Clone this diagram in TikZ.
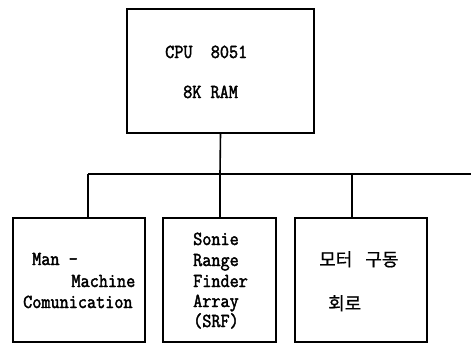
\documentclass[tikz,border=0pt]{standalone}
\usepackage{fontspec}
\usepackage{graphicx}
\newfontfamily\krfont{Noto Sans CJK KR}[FakeBold=0.8]
\newfontfamily\lmtb{Latin Modern Mono}[FakeBold=2.2]
\newcommand\tallt[1]{\scalebox{1}[1.12]{#1}}
\tikzset{
  blk/.style={draw, line width=1.6pt, rectangle, inner sep=0pt},
  wire/.style={line width=1.6pt},
  lbl/.style={font=\lmtb\fontsize{17.7}{20}\selectfont, inner sep=0pt, anchor=base west},
  krl/.style={font=\krfont\fontsize{18}{20}\selectfont, inner sep=0pt, anchor=base west}
}
\begin{document}
\begin{tikzpicture}[x=1pt,y=-1pt]
\useasboundingbox (0,0) rectangle (471,343);
% boxes
\node[blk, minimum width=187pt, minimum height=124pt] (cpu) at (220.5,71) {};
\node[blk, minimum width=132pt, minimum height=124pt] (mmc) at (79,280) {};
\node[blk, minimum width=113pt, minimum height=124pt] (srf) at (219.5,280) {};
\node[blk, minimum width=132pt, minimum height=124pt] (mot) at (361,280) {};
% bus
\coordinate (busL) at (88,174);
\coordinate (busM) at (220,174);
\coordinate (busK) at (352,174);
\coordinate (busR) at (471,174);
\draw[wire] (busL) -- (busR);
\draw[wire] (cpu.south) -- (busM);
\draw[wire] (busL) -- (busL |- mmc.north);
\draw[wire] (busM) -- (busM |- srf.north);
\draw[wire] (busK) -- (busK |- mot.north);
% texts
\node[lbl] (t1) at (165,58) {\tallt{CPU\ \ 8051}};
\node[lbl] (t2) at (183,98) {\tallt{8K RAM}};
\node[lbl] (t3) at (32,265) {\tallt{Man -}};
\node[lbl, anchor=base east] (t4) at (135.5,287) {\tallt{Machine}};
\node[lbl] (t5) at (23,308) {\tallt{Comunication}};
\node[lbl] (t6) at (193,245) {\tallt{Sonie}};
\node[lbl] (t7) at (193,266) {\tallt{Range}};
\node[lbl] (t8) at (193,287) {\tallt{Finder}};
\node[lbl] (t9) at (193,307) {\tallt{Array}};
\node[lbl] (t10) at (193,327) {\tallt{(SRF)}};
\node[krl] (t11) at (319,266) {모터\hspace{13pt}구동};
\node[krl] (t12) at (328,310) {회로};
\end{tikzpicture}
\end{document}
